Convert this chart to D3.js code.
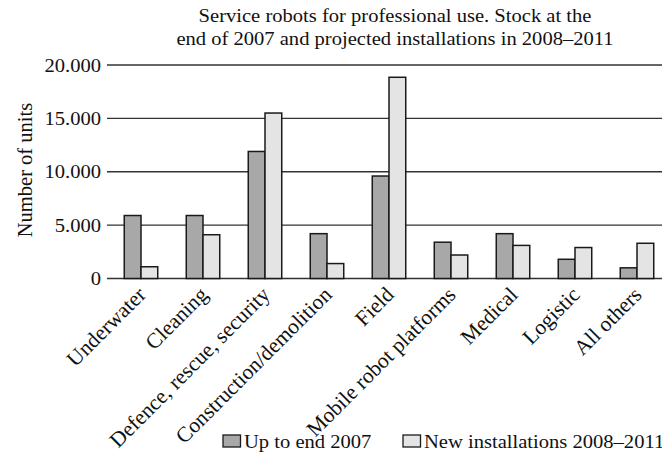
<!DOCTYPE html>
<html>
<head>
<meta charset="utf-8">
<script src="https://cdn.jsdelivr.net/npm/d3@7"></script>
<style>
  html, body { margin: 0; padding: 0; background: #fff; }
  svg { display: block; }
  text { font-family: "Liberation Serif", "Times New Roman", serif; fill: #111; }
</style>
</head>
<body>
<svg id="chart" width="662" height="455"></svg>
<script>
// Service robots for professional use (units)
const categories = [
  "Underwater", "Cleaning", "Defence, rescue, security", "Construction/demolition",
  "Field", "Mobile robot platforms", "Medical", "Logistic", "All others"
];
const stockEnd2007 = [5900, 5900, 11900, 4200, 9600, 3400, 4200, 1800, 1000];
const newInstall2008to2011 = [1100, 4100, 15500, 1400, 18850, 2200, 3100, 2900, 3300];
const yTicks = [0, 5000, 10000, 15000, 20000];
const yTickLabels = ["0", "5.000", "10.000", "15.000", "20.000"];
const seriesNames = ["Up to end 2007", "New installations 2008\u20132011"];
const titleLines = [
  "Service robots for professional use. Stock at the",
  "end of 2007 and projected installations in 2008\u20132011"
];

const colors = ["#a8a8a8", "#e4e4e4"];
const stretch = 1.055;   // slightly wide text face
const fs = 19.5;

const svg = d3.select("#chart");

const y = d3.scaleLinear().domain([0, 20000]).range([278.5, 65]);
const x = d3.scaleBand().domain(categories).range([110, 668])
  .paddingInner(0.46).paddingOuter(0.23);
const xs = d3.scaleBand().domain([0, 1]).range([0, x.bandwidth()]);

// grid lines / y ticks
svg.append("g").selectAll("line").data(yTicks).join("line")
  .attr("x1", 107).attr("x2", 662)
  .attr("y1", d => y(d)).attr("y2", d => y(d))
  .attr("stroke", "#333").attr("stroke-width", 1.3);

svg.append("g").selectAll("text").data(yTicks).join("text")
  .attr("text-anchor", "end")
  .attr("font-size", fs)
  .attr("transform", d => `translate(101,${y(d) + 6.5}) scale(${stretch},1)`)
  .text((d, i) => yTickLabels[i]);

// bars
const rows = categories.map((c, i) => ({ c, v: [stockEnd2007[i], newInstall2008to2011[i]] }));
const groups = svg.append("g").selectAll("g").data(rows).join("g")
  .attr("transform", d => `translate(${x(d.c)},0)`);
groups.selectAll("rect").data(d => d.v.map((v, k) => ({ v, k }))).join("rect")
  .attr("x", d => xs(d.k))
  .attr("width", xs.bandwidth())
  .attr("y", d => y(d.v))
  .attr("height", d => y(0) - y(d.v))
  .attr("fill", d => colors[d.k])
  .attr("stroke", "#1a1a1a").attr("stroke-width", 1.5);

// category labels
svg.append("g").selectAll("text").data(categories).join("text")
  .attr("text-anchor", "end")
  .attr("font-size", 21.5)
  .attr("transform", d => `translate(${x(d) + x.bandwidth() / 2 + 6},${296}) rotate(-45)`)
  .text(d => d);

// y-axis title
svg.append("text")
  .attr("text-anchor", "middle")
  .attr("font-size", 20.5)
  .attr("transform", `translate(31.5,170) rotate(-90)`)
  .text("Number of units");

// title
svg.append("g").selectAll("text").data(titleLines).join("text")
  .attr("text-anchor", "middle")
  .attr("font-size", fs)
  .attr("transform", (d, i) => `translate(395,${22 + i * 23}) scale(${stretch},1)`)
  .text(d => d);

// legend (the row runs past the right edge of the frame)
const legendX = [223, 403];
const lg = svg.append("g").selectAll("g").data(seriesNames).join("g")
  .attr("transform", (d, i) => `translate(${legendX[i]},435)`);
lg.append("rect").attr("width", 17.5).attr("height", 12)
  .attr("fill", (d, i) => colors[i]).attr("stroke", "#1a1a1a").attr("stroke-width", 1.3);
lg.append("text").attr("font-size", fs)
  .attr("transform", `translate(21,12.5) scale(${stretch},1)`)
  .text(d => d);
</script>
</body>
</html>
